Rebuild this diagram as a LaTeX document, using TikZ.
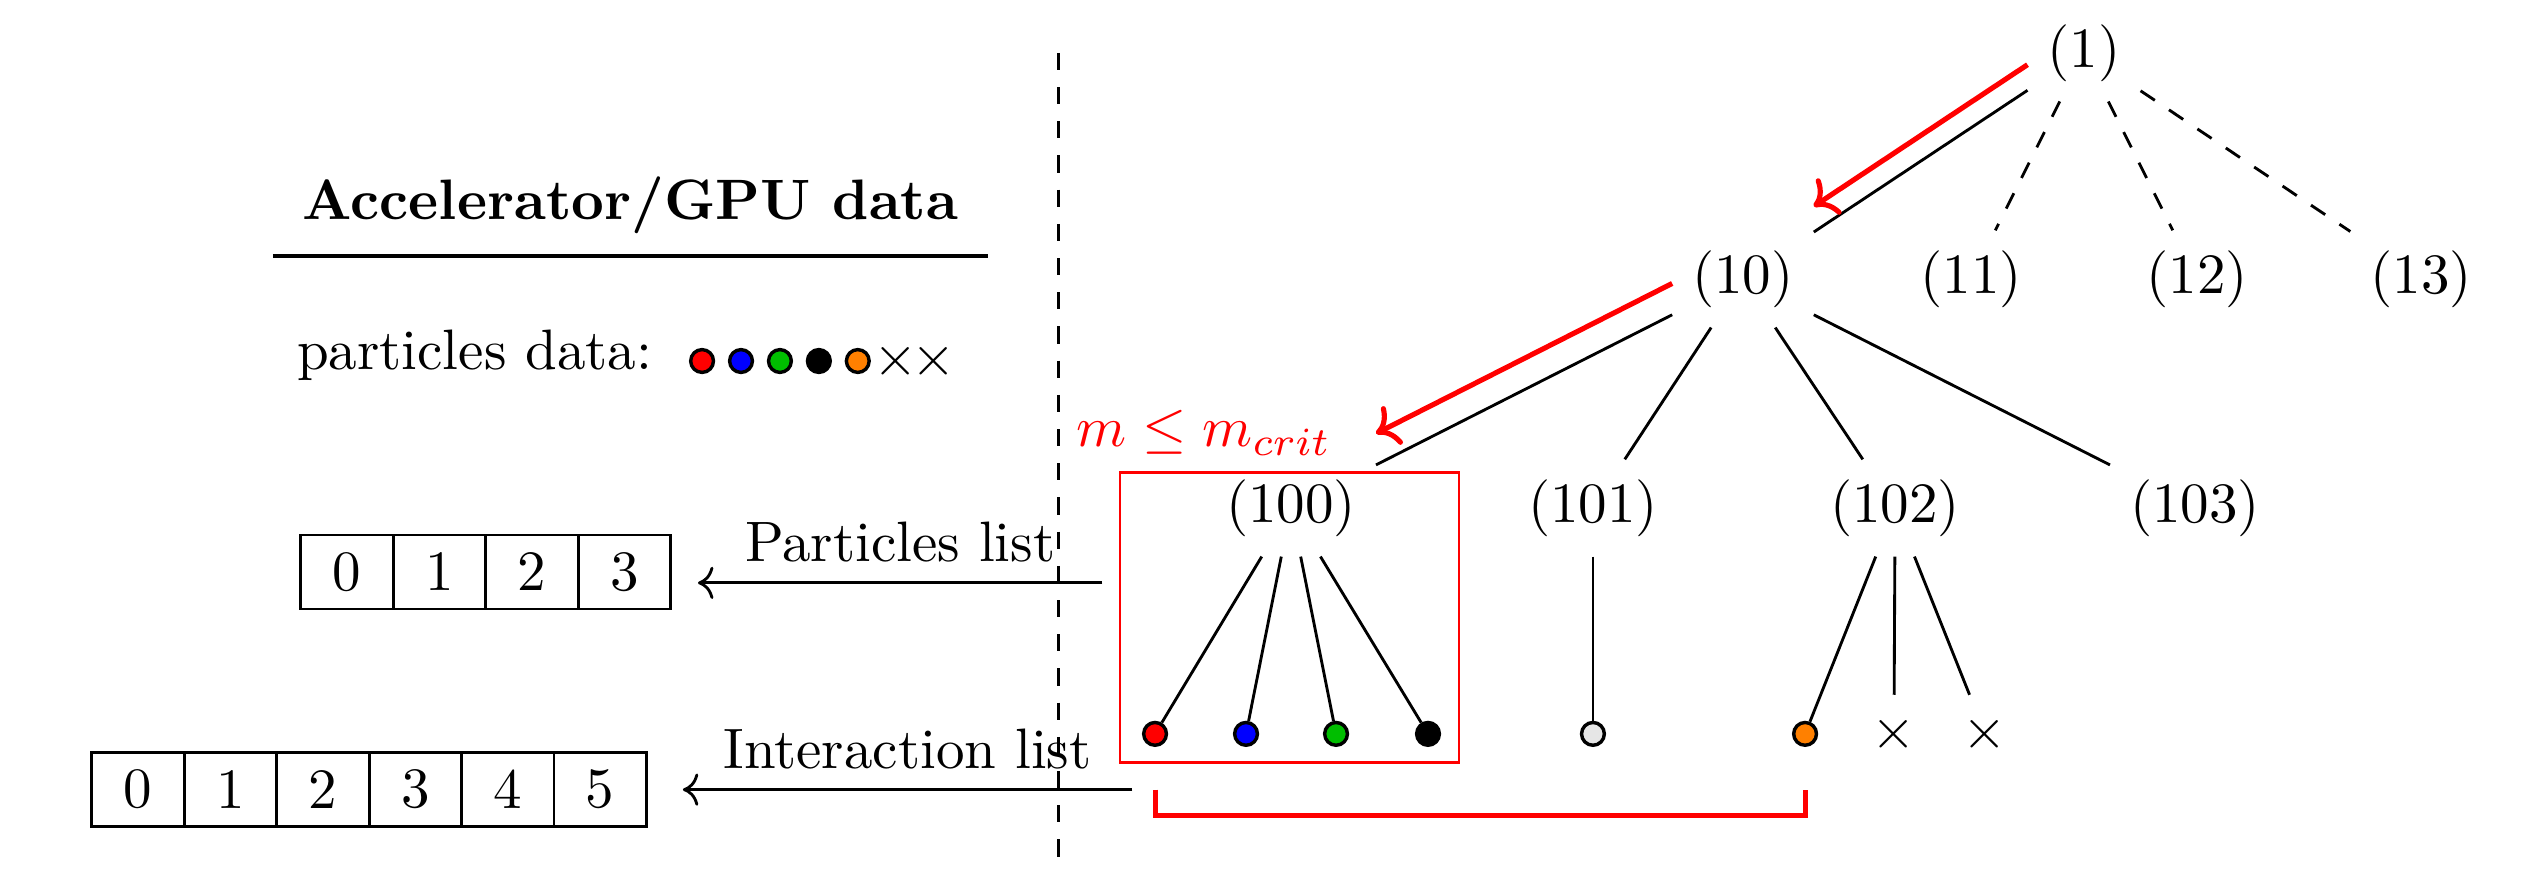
\documentclass[tikz,border=0pt]{standalone}
\usepackage{amsmath,amssymb}
\usepackage{tikz}
\usetikzlibrary{arrows.meta,positioning,calc}
\definecolor{ptred}{RGB}{255,0,0}
\definecolor{ptblue}{RGB}{0,0,255}
\definecolor{ptgreen}{RGB}{0,190,0}
\definecolor{ptorange}{RGB}{255,128,0}
\definecolor{ptgrey}{RGB}{230,230,230}
\tikzset{
  tnode/.style={inner sep=3.33pt},
  edge/.style={line width=0.5pt, draw=black},
  dashedge/.style={edge, dashed},
  trail/.style={-{To}, line width=0.9pt, draw=ptred},
  ptcl/.style={circle, draw=black, line width=0.6pt, fill=#1, minimum size=4pt, inner sep=0pt},
  xmark/.style={inner sep=#1},
  xmark/.default=3.33pt,
  cell/.style={rectangle, draw=black, line width=0.5pt, minimum width=0.57cm, minimum height=0.456cm, inner sep=0pt},
  critbox/.style={rectangle, draw=ptred, line width=0.5pt, minimum width=2.09cm, minimum height=1.788cm, inner sep=0pt},
  lst/.style={-{To}, line width=0.5pt, draw=black},
  brk/.style={line width=0.9pt, draw=ptred},
  sepline/.style={line width=0.5pt, dashed},
  rule/.style={line width=0.8pt},
}

\begin{document}
\begin{tikzpicture}
  \useasboundingbox (0,0) rectangle (15.6,5.401);
  % host side
  \node[font=\bfseries, anchor=base] (title) at (3.888,4.045) {Accelerator/GPU data};
  \coordinate (rl) at (1.683,3.823);
  \coordinate (rr) at (6.092,3.823);
  \draw[rule] (rl) -- (rr);
  \node[anchor=base west, inner sep=0pt] (pdata) at (1.825,3.120) {particles data:};
  \foreach \c [count=\i] in {ptred,ptblue,ptgreen,black,ptorange}{
    \node[ptcl=\c] (h\i) at ({4.329+0.240*(\i-1)},3.175) {};
  }
  \node[xmark=0pt] (hx1) at (5.525,3.175) {$\times$};
  \node[xmark=0pt] (hx2) at (5.759,3.175) {$\times$};
  \foreach \i in {0,...,3}{\node[cell] (p\i) at ({2.140+0.570*\i},1.874) {\i};}
  \foreach \i in {0,...,5}{\node[cell] (i\i) at ({0.851+0.570*\i},0.533) {\i};}
  % separator
  \coordinate (septop) at (6.524,5.075);
  \coordinate (sepbot) at (6.524,0.062);
  \draw[sepline] (septop) -- (sepbot);
  % tree
  \node[tnode] (n1) at (12.850,5.075) {(1)};
  \foreach \n/\x in {10/10.747,11/12.153,12/13.547,13/14.928}{\node[tnode] (n\n) at (\x,3.681) {(\n)};}
  \foreach \n/\x in {100/7.960,101/9.822,102/11.685,103/13.534}{\node[tnode] (n\n) at (\x,2.269) {(\n)};}
  \draw[edge] (n1) -- (n10);
  \foreach \c in {11,12,13}{\draw[dashedge] (n1) -- (n\c);}
  \foreach \c in {100,...,103}{\draw[edge] (n10) -- (n\c);}
  % leaves
  \foreach \k/\x/\c in {a/7.122/ptred,b/7.683/ptblue,c/8.238/ptgreen,d/8.805/black}{
    \node[ptcl=\c] (l\k) at (\x,0.876) {};
    \draw[edge] (n100) -- (l\k);
  }
  \node[ptcl=ptgrey] (le) at (9.822,0.876) {};
  \draw[edge] (n101) -- (le);
  \node[ptcl=ptorange] (lf) at (11.130,0.876) {};
  \node[xmark] (lg) at (11.678,0.876) {$\times$};
  \node[xmark] (lh) at (12.240,0.876) {$\times$};
  \foreach \k in {f,g,h}{\draw[edge] (n102) -- (l\k);}
  % critical cell
  \node[critbox] (crit) at (7.951,1.591) {};
  \node[text=ptred, anchor=base] (critlbl) at (7.424,2.645) {$m \leq m_{crit}$};
  \draw[trail, transform canvas={yshift=4.5pt}] (n1) -- (n10);
  \draw[trail, transform canvas={yshift=5.5pt}] (n10) -- (n100);
  % lists
  \coordinate (pfrom) at ($(crit.west)+(-0.10,0.216)$);
  \draw[lst] (pfrom) -- ($(pfrom -| p3.east)+(0.16,0)$) node[midway,above] {Particles list};
  \coordinate (ifrom) at ($(la.south)+(-0.14,-0.263)$);
  \draw[lst] (ifrom) -- ($(ifrom -| i5.east)+(0.216,0)$) node[midway,above] {Interaction list};
  \draw[brk] ($(la.south)+(0,-0.263)$) |- ($(lf.south)+(0,-0.42)$) -- ($(lf.south)+(0,-0.263)$);
\end{tikzpicture}
\end{document}
